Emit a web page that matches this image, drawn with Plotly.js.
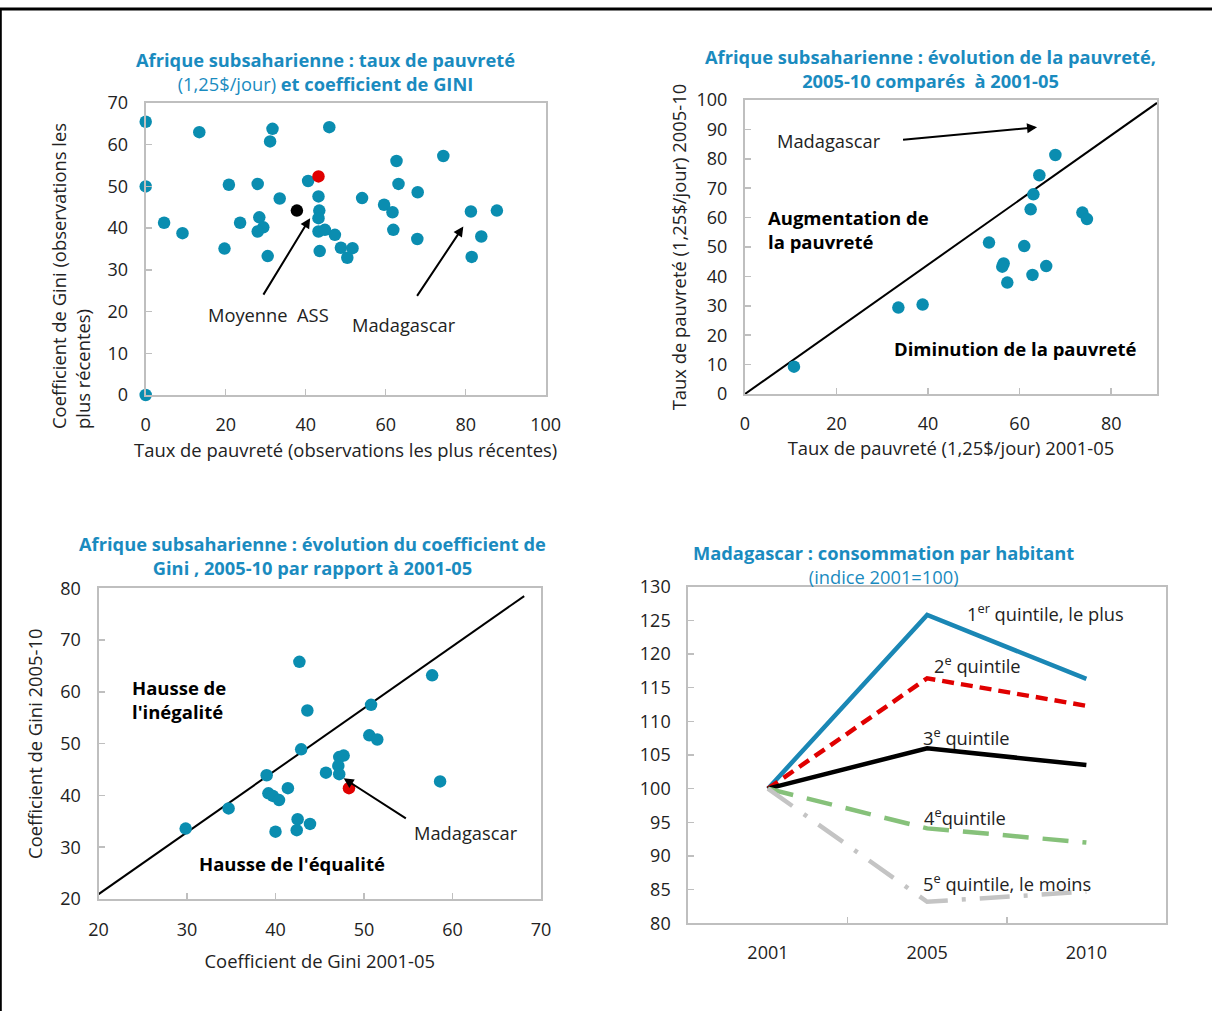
<!DOCTYPE html>
<html><head><meta charset="utf-8">
<script src="https://cdn.plot.ly/plotly-3.0.1.min.js"></script>
<style>html,body{margin:0;padding:0;background:#fff}#chart{width:1212px;height:1011px}</style>
</head><body><div id="chart"></div>
<script>
// Panel 1: poverty rate vs Gini (latest observations)
const p1_poverty = [0, 13.4, 31.7, 31.1, 45.9, 74.4, 62.7, 40.6, 0, 20.8, 28.0, 63.2, 68.0, 43.2, 33.5, 54.1, 59.6, 61.7, 81.3, 87.8, 43.4, 43.2, 28.4, 4.6, 23.6, 29.4, 28.0, 9.2, 43.2, 44.8, 61.9, 47.3, 67.9, 83.9, 19.7, 48.8, 51.7, 43.5, 30.5, 50.4, 81.5, 0];
const p1_gini = [65.5, 63.0, 63.8, 60.8, 64.2, 57.3, 56.1, 51.3, 50.0, 50.4, 50.6, 50.6, 48.6, 47.6, 47.1, 47.2, 45.6, 43.8, 44.0, 44.2, 44.2, 42.4, 42.6, 41.3, 41.3, 40.2, 39.2, 38.8, 39.2, 39.6, 39.6, 38.4, 37.4, 38.0, 35.1, 35.3, 35.2, 34.5, 33.3, 32.9, 33.1, 0];
const p1_mada_poverty = [43.2];
const p1_mada_gini = [52.4];
const p1_avg_poverty = [37.8];
const p1_avg_gini = [44.2];

// Panel 2: poverty 2001-05 vs 2005-10
const p2_pov_0105 = [10.7, 33.5, 38.8, 53.3, 61.0, 56.5, 56.2, 57.3, 62.8, 65.8, 62.4, 63.0, 64.3, 67.8, 73.7, 74.7];
const p2_pov_0510 = [9.3, 29.4, 30.4, 51.5, 50.3, 44.4, 43.3, 37.9, 40.5, 43.5, 62.8, 67.9, 74.4, 81.3, 61.7, 59.5];
const p2_ref_x = [0, 90];
const p2_ref_y = [0, 99];

// Panel 3: Gini 2001-05 vs 2005-10
const p3_gini_0105 = [29.85, 34.7, 39.0, 39.2, 39.7, 40.4, 41.4, 40.0, 42.5, 42.4, 43.9, 42.7, 43.6, 42.9, 45.7, 47.2, 47.7, 47.1, 47.2, 50.8, 50.6, 51.5, 57.7, 58.6];
const p3_gini_0510 = [33.6, 37.5, 43.9, 40.4, 39.9, 39.1, 41.4, 33.0, 35.4, 33.3, 34.5, 65.8, 56.4, 48.9, 44.4, 47.4, 47.7, 45.7, 44.1, 57.5, 51.6, 50.8, 63.2, 42.7];
const p3_mada_0105 = [48.3];
const p3_mada_0510 = [41.4];
const p3_ref_x = [19.9, 68.1];
const p3_ref_y = [20.8, 78.5];

// Panel 4: Madagascar consumption per capita (index 2001=100)
const years = ['2001', '2005', '2010'];
const q1 = [100, 125.8, 116.3];
const q2 = [100, 116.4, 112.3];
const q3 = [100, 106.0, 103.5];
const q4 = [100, 94.1, 92.0];
const q5 = [100, 83.2, 84.7];

const FONT = 'Open Sans, Noto Sans, sans-serif';
const TEAL = '#0a8db0';
const TITLE = '#1a8bbf';
const GRAY = '#bfbfbf';
const tickF = {family: FONT, size: 18, color: '#222'};
const titleF = {family: FONT, size: 18.4, color: '#222'};

function ax(extra) {
  return Object.assign({
    showline: true, mirror: true, linecolor: GRAY, linewidth: 2,
    ticks: 'inside', ticklen: 6, tickcolor: GRAY, tickwidth: 1.5,
    showgrid: false, zeroline: false, tickfont: tickF, fixedrange: true
  }, extra);
}

const mk = (c) => ({color: c, size: 12.5});
const traces = [
  {x: p1_poverty, y: p1_gini, xaxis: 'x', yaxis: 'y', mode: 'markers', type: 'scatter', marker: mk(TEAL), cliponaxis: false},
  {x: p1_mada_poverty, y: p1_mada_gini, xaxis: 'x', yaxis: 'y', mode: 'markers', type: 'scatter', marker: mk('#e00000'), cliponaxis: false},
  {x: p1_avg_poverty, y: p1_avg_gini, xaxis: 'x', yaxis: 'y', mode: 'markers', type: 'scatter', marker: mk('#000000'), cliponaxis: false},

  {x: p2_ref_x, y: p2_ref_y, xaxis: 'x2', yaxis: 'y2', mode: 'lines', type: 'scatter', line: {color: '#000', width: 2}},
  {x: p2_pov_0105, y: p2_pov_0510, xaxis: 'x2', yaxis: 'y2', mode: 'markers', type: 'scatter', marker: mk(TEAL), cliponaxis: false},

  {x: p3_ref_x, y: p3_ref_y, xaxis: 'x3', yaxis: 'y3', mode: 'lines', type: 'scatter', line: {color: '#000', width: 2}},
  {x: p3_mada_0105, y: p3_mada_0510, xaxis: 'x3', yaxis: 'y3', mode: 'markers', type: 'scatter', marker: mk('#e00000')},
  {x: p3_gini_0105, y: p3_gini_0510, xaxis: 'x3', yaxis: 'y3', mode: 'markers', type: 'scatter', marker: mk(TEAL)},

  {x: years, y: q1, xaxis: 'x4', yaxis: 'y4', mode: 'lines', type: 'scatter', line: {color: '#1a87b5', width: 4.5}},
  {x: years, y: q2, xaxis: 'x4', yaxis: 'y4', mode: 'lines', type: 'scatter', line: {color: '#e00000', width: 4.5, dash: '12px,7px'}},
  {x: years, y: q3, xaxis: 'x4', yaxis: 'y4', mode: 'lines', type: 'scatter', line: {color: '#000000', width: 4.5}},
  {x: years, y: q4, xaxis: 'x4', yaxis: 'y4', mode: 'lines', type: 'scatter', line: {color: '#86c17a', width: 4.5, dash: '26px,14px'}},
  {x: years, y: q5, xaxis: 'x4', yaxis: 'y4', mode: 'lines', type: 'scatter', line: {color: '#c4c4c4', width: 4.5, dash: '30px,14px,4px,14px'}}
];

const W = 1212, H = 1011;
const dx = (a, b) => [a / W, b / W];
const dy = (top, bottom) => [1 - bottom / H, 1 - top / H];

const layout = {
  width: W, height: H, margin: {l: 0, r: 0, t: 0, b: 0},
  paper_bgcolor: '#fff', plot_bgcolor: '#fff', showlegend: false, hovermode: false,
  font: {family: FONT, color: '#222'},
  xaxis: ax({domain: dx(145.7, 545.7), range: [0, 100], dtick: 20, anchor: 'y', ticklabelstandoff: 12,
    title: {text: 'Taux de pauvreté (observations les plus récentes)', font: titleF, standoff: 10}}),
  yaxis: ax({domain: dy(103, 395), range: [0, 70], dtick: 10, anchor: 'x', ticklabelstandoff: 12}),
  xaxis2: ax({domain: dx(745, 1157), range: [0, 90], dtick: 20, anchor: 'y2', ticklabelstandoff: 12,
    title: {text: 'Taux de pauvreté (1,25$/jour) 2001-05', font: titleF, standoff: 9}}),
  yaxis2: ax({domain: dy(100, 394), range: [0, 100], dtick: 10, anchor: 'x2', ticklabelstandoff: 12,
    title: {text: 'Taux de pauvreté (1,25$/jour) 2005-10', font: titleF, standoff: 5}}),
  xaxis3: ax({domain: dx(98.5, 541), range: [20, 70], dtick: 10, anchor: 'y3', ticklabelstandoff: 13,
    title: {text: 'Coefficient de Gini 2001-05', font: titleF, standoff: 16}}),
  yaxis3: ax({domain: dy(588.3, 899), range: [20, 80], dtick: 10, anchor: 'x3', ticklabelstandoff: 12,
    title: {text: 'Coefficient de Gini 2005-10', font: titleF, standoff: 13}}),
  xaxis4: ax({domain: dx(688.3, 1166), type: 'category', range: [-0.5, 2.5], anchor: 'y4', tickson: 'boundaries', ticklabelstandoff: 12}),
  yaxis4: ax({domain: dy(586.7, 923.3), range: [80, 130], dtick: 5, anchor: 'x4', ticklabelstandoff: 12}),
  shapes: [
    {type: 'line', xref: 'paper', yref: 'paper', x0: 0, x1: 1, y0: 1 - 9 / H, y1: 1 - 9 / H, line: {color: '#000', width: 3}},
    {type: 'line', xref: 'paper', yref: 'paper', x0: 0.8 / W, x1: 0.8 / W, y0: 0, y1: 1 - 9 / H, line: {color: '#000', width: 2}}
  ],
  annotations: []
};

const A = layout.annotations;
// Panel 1 y-axis title (two lines, left-aligned like the original)
A.push({xref: 'paper', yref: 'paper', x: 70.5 / W, y: 1 - 276.5 / H, xanchor: 'center', yanchor: 'middle',
  textangle: -90, align: 'left', showarrow: false, font: titleF,
  text: 'Coefficient de Gini (observations les<br>plus récentes)'});

const tF = {family: FONT, size: 18.3, color: TITLE};
function ptitle(x, yc, text) {
  A.push({xref: 'paper', yref: 'paper', x: x / W, y: 1 - yc / H, xanchor: 'center', yanchor: 'middle',
    text: text, showarrow: false, font: tF, align: 'center'});
}
ptitle(325, 71, '<b>Afrique subsaharienne : taux de pauvreté</b><br>(1,25$/jour) <b>et coefficient de GINI</b>');
ptitle(930, 68, '<b>Afrique subsaharienne : évolution de la pauvreté,</b><br><b>2005-10 comparés  à 2001-05</b>');
ptitle(312, 555, '<b>Afrique subsaharienne : évolution du coefficient de</b><br><b>Gini , 2005-10 par rapport à 2001-05</b>');
ptitle(884, 564, '<b>Madagascar : consommation par habitant</b><br>(indice 2001=100)');

const txtF = {family: FONT, size: 18.3, color: '#222'};
const boldF = {family: FONT, size: 18.5, color: '#000'};
function arrow(xr, yr, tx, ty, hx, hy) {
  A.push({xref: xr, yref: yr, axref: xr, ayref: yr, x: hx, y: hy, ax: tx, ay: ty, text: '',
    showarrow: true, arrowhead: 2, arrowsize: 1, arrowwidth: 2, arrowcolor: '#000'});
}
function label(xr, yr, x, y, text, font, xanchor) {
  A.push({xref: xr, yref: yr, x: x, y: y, text: text, showarrow: false, font: font,
    xanchor: xanchor || 'center', yanchor: 'middle', align: 'left'});
}
// Panel 1
arrow('x', 'y', 29.2, 23.7, 41.1, 42.4);
arrow('x', 'y', 67.6, 23.4, 79.4, 40.4);
label('x', 'y', 30.6, 19.4, 'Moyenne  ASS', txtF);
label('x', 'y', 64.6, 17.0, 'Madagascar', txtF);
// Panel 2
arrow('x2', 'y2', 34.2, 86.4, 63.8, 90.7);
label('x2', 'y2', 18.4, 86.1, 'Madagascar', txtF);
label('x2', 'y2', 4.6, 55.8, '<b>Augmentation de<br>la pauvreté</b>', boldF, 'left');
label('x2', 'y2', 59.0, 15.6, '<b>Diminution de la pauvreté</b>', boldF);
// Panel 3
arrow('x3', 'y3', 54.9, 35.4, 47.7, 43.3);
label('x3', 'y3', 61.5, 32.9, 'Madagascar', txtF);
label('x3', 'y3', 23.6, 58.6, "<b>Hausse de<br>l'inégalité</b>", boldF, 'left');
label('x3', 'y3', 41.9, 26.8, "<b>Hausse de l'équalité</b>", boldF);
// Panel 4
label('x4', 'y4', 1.24, 126.2, '1<sup>er</sup> quintile, le plus', txtF, 'left');
label('x4', 'y4', 1.03, 118.4, '2<sup>e</sup> quintile', txtF, 'left');
label('x4', 'y4', 0.96, 107.7, '3<sup>e</sup> quintile', txtF, 'left');
label('x4', 'y4', 0.97, 95.8, '4<sup>e</sup>quintile', txtF, 'left');
label('x4', 'y4', 0.96, 86.0, '5<sup>e</sup> quintile, le moins', txtF, 'left');

Plotly.newPlot('chart', traces, layout, {staticPlot: true, displayModeBar: false});
</script></body></html>
